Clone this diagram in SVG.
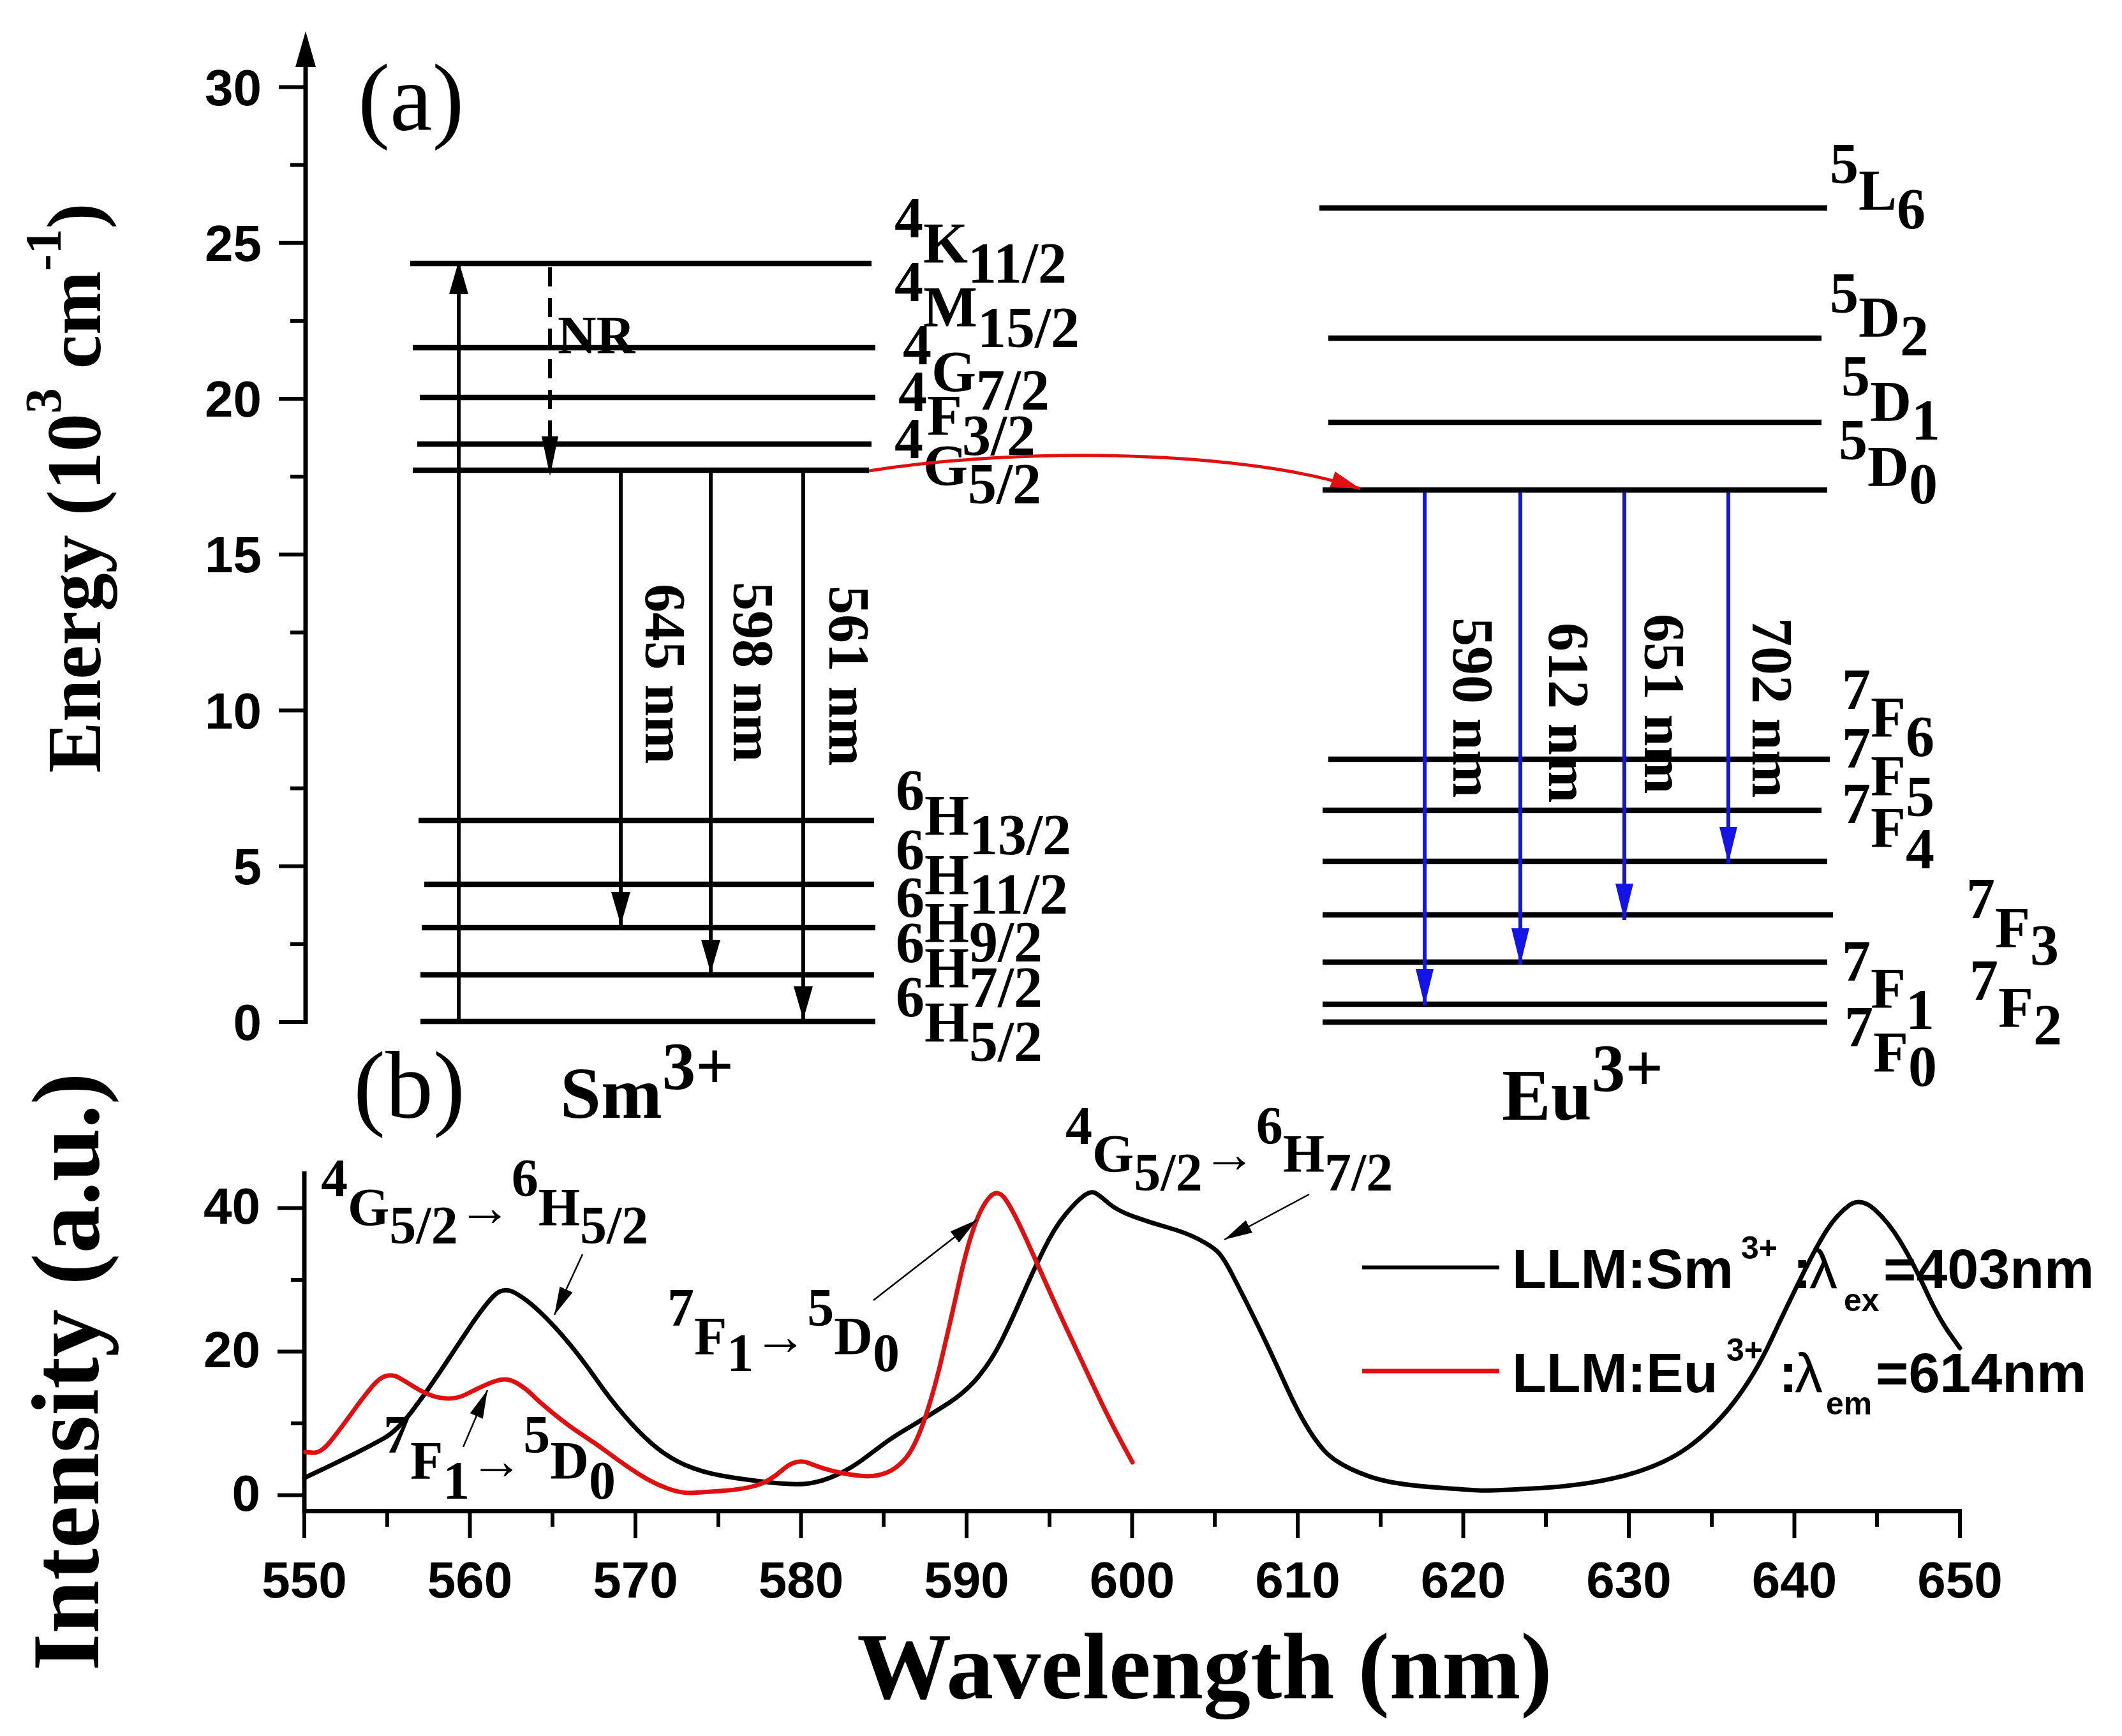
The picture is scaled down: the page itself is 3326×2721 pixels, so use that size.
<svg xmlns="http://www.w3.org/2000/svg" width="3326" height="2721" viewBox="0 0 3326 2721">
<style>
.bg{fill:#fff}
.lvl{stroke:#000;stroke-width:8.5;stroke-linecap:butt}
.ax{stroke:#000;stroke-width:7;fill:none}
.tk{stroke:#000;stroke-width:6}
.arr{stroke:#000;stroke-width:6;fill:none}
.blu{stroke:#1414e6;stroke-width:6;fill:none}
.thin{stroke:#000;stroke-width:2.5;fill:none}
.tl{font-family:"Liberation Sans",Arial,sans-serif;font-weight:bold;font-size:80px;fill:#000}
.lv{font-family:"Liberation Serif","Times New Roman",serif;font-weight:bold;font-size:90px;fill:#000}
.an{font-family:"Liberation Serif","Times New Roman",serif;font-weight:bold;font-size:84px;fill:#000}
.nm{font-family:"Liberation Serif","Times New Roman",serif;font-weight:bold;font-size:90px;fill:#000}
.ttl{font-family:"Liberation Serif","Times New Roman",serif;font-weight:bold;fill:#000}
.leg{font-family:"Liberation Sans",Arial,sans-serif;font-weight:bold;font-size:88px;fill:#000}
.ls{font-size:50px}
.crv{fill:none;stroke-width:7;stroke-linejoin:round;stroke-linecap:round}
</style>
<defs>
<marker id="hk" markerUnits="userSpaceOnUse" markerWidth="52" markerHeight="30" refX="52" refY="15" orient="auto" viewBox="0 0 52 30"><path d="M0,0 L52,15 L0,30 z" fill="#000"/></marker>
<marker id="hn" markerUnits="userSpaceOnUse" markerWidth="62" markerHeight="26" refX="62" refY="13" orient="auto" viewBox="0 0 62 26"><path d="M0,0 L62,13 L0,26 z" fill="#000"/></marker>
<marker id="hb" markerUnits="userSpaceOnUse" markerWidth="57" markerHeight="28" refX="57" refY="14" orient="auto" viewBox="0 0 57 28"><path d="M0,0 L57,14 L0,28 z" fill="#1414e6"/></marker>
<marker id="hr" markerUnits="userSpaceOnUse" markerWidth="46" markerHeight="26" refX="46" refY="13" orient="auto" viewBox="0 0 46 26"><path d="M0,0 L46,13 L0,26 z" fill="#e01010"/></marker>
<marker id="ht" markerUnits="userSpaceOnUse" markerWidth="44" markerHeight="22" refX="44" refY="11" orient="auto" viewBox="0 0 44 22"><path d="M0,0 L44,11 L0,22 z" fill="#000"/></marker>
</defs>
<rect class="bg" x="0" y="0" width="3326" height="2721"/>

<!-- Panel (a) axis -->
<g id="axis-a">
<line class="ax" x1="479" y1="100" x2="479" y2="1605"/>
<polygon points="479,49 463,105 495,105" fill="#000"/>
<line class="tk" x1="437" y1="136.5" x2="479" y2="136.5"/>
<line class="tk" x1="455" y1="258.6" x2="479" y2="258.6"/>
<line class="tk" x1="437" y1="380.8" x2="479" y2="380.8"/>
<line class="tk" x1="455" y1="502.9" x2="479" y2="502.9"/>
<line class="tk" x1="437" y1="625" x2="479" y2="625"/>
<line class="tk" x1="455" y1="747.1" x2="479" y2="747.1"/>
<line class="tk" x1="437" y1="869.3" x2="479" y2="869.3"/>
<line class="tk" x1="455" y1="991.4" x2="479" y2="991.4"/>
<line class="tk" x1="437" y1="1113.5" x2="479" y2="1113.5"/>
<line class="tk" x1="455" y1="1235.6" x2="479" y2="1235.6"/>
<line class="tk" x1="437" y1="1357.8" x2="479" y2="1357.8"/>
<line class="tk" x1="455" y1="1479.9" x2="479" y2="1479.9"/>
<line class="tk" x1="437" y1="1602" x2="479" y2="1602"/>
<text class="tl" text-anchor="end" x="410" y="165">30</text>
<text class="tl" text-anchor="end" x="410" y="409">25</text>
<text class="tl" text-anchor="end" x="410" y="653">20</text>
<text class="tl" text-anchor="end" x="410" y="897">15</text>
<text class="tl" text-anchor="end" x="410" y="1142">10</text>
<text class="tl" text-anchor="end" x="410" y="1386">5</text>
<text class="tl" text-anchor="end" x="410" y="1630">0</text>
<text class="ttl" font-size="120" text-anchor="middle" transform="translate(157,765) rotate(-90)">Energy (10<tspan font-size="80" dy="-62">3</tspan><tspan dy="62"> cm</tspan><tspan font-size="80" dy="-62">-1</tspan><tspan dy="62">)</tspan></text>
<text font-family="Liberation Serif,'Times New Roman',serif" font-size="150" x="561" y="204">(a)</text>
</g>

<!-- Sm3+ levels -->
<g id="sm-levels">
<line class="lvl" x1="643" y1="413" x2="1366" y2="413"/>
<line class="lvl" x1="647" y1="545" x2="1372" y2="545"/>
<line class="lvl" x1="658" y1="623" x2="1372" y2="623"/>
<line class="lvl" x1="654" y1="696" x2="1366" y2="696"/>
<line class="lvl" x1="647" y1="737" x2="1362" y2="737"/>
<line class="lvl" x1="656" y1="1286" x2="1370" y2="1286"/>
<line class="lvl" x1="665" y1="1386" x2="1370" y2="1386"/>
<line class="lvl" x1="661" y1="1454" x2="1372" y2="1454"/>
<line class="lvl" x1="659" y1="1528" x2="1370" y2="1528"/>
<line class="lvl" x1="659" y1="1601" x2="1372" y2="1601"/>
</g>
<g id="sm-labels">
<text class="lv" x="1402" y="412"><tspan dy="-40">4</tspan><tspan dy="40">K</tspan><tspan dy="31">11/2</tspan></text>
<text class="lv" x="1402" y="512"><tspan dy="-40">4</tspan><tspan dy="40">M</tspan><tspan dy="32">15/2</tspan></text>
<text class="lv" x="1415" y="613"><tspan dy="-42">4</tspan><tspan dy="42">G</tspan><tspan dy="29">7/2</tspan></text>
<text class="lv" x="1408" y="682"><tspan dy="-38">4</tspan><tspan dy="38">F</tspan><tspan dy="31">3/2</tspan></text>
<text class="lv" x="1402" y="760"><tspan dy="-42">4</tspan><tspan dy="42">G</tspan><tspan dy="29">5/2</tspan></text>
<text class="lv" x="1404" y="1309"><tspan dy="-40">6</tspan><tspan dy="40">H</tspan><tspan dy="30">13/2</tspan></text>
<text class="lv" x="1404" y="1402"><tspan dy="-40">6</tspan><tspan dy="40">H</tspan><tspan dy="30">11/2</tspan></text>
<text class="lv" x="1404" y="1477"><tspan dy="-40">6</tspan><tspan dy="40">H</tspan><tspan dy="30">9/2</tspan></text>
<text class="lv" x="1404" y="1548"><tspan dy="-40">6</tspan><tspan dy="40">H</tspan><tspan dy="30">7/2</tspan></text>
<text class="lv" x="1404" y="1633"><tspan dy="-40">6</tspan><tspan dy="40">H</tspan><tspan dy="30">5/2</tspan></text>
<text class="ttl" font-size="115" x="878" y="1752">Sm<tspan font-size="105" dy="-45">3+</tspan></text>
</g>

<!-- Eu3+ levels -->
<g id="eu-levels">
<line class="lvl" x1="2068" y1="326" x2="2864" y2="326"/>
<line class="lvl" x1="2082" y1="530" x2="2855" y2="530"/>
<line class="lvl" x1="2082" y1="662" x2="2855" y2="662"/>
<line class="lvl" x1="2073" y1="768" x2="2864" y2="768"/>
<line class="lvl" x1="2082" y1="1190" x2="2868" y2="1190"/>
<line class="lvl" x1="2073" y1="1270" x2="2855" y2="1270"/>
<line class="lvl" x1="2073" y1="1350" x2="2864" y2="1350"/>
<line class="lvl" x1="2073" y1="1434" x2="2873" y2="1434"/>
<line class="lvl" x1="2073" y1="1508" x2="2864" y2="1508"/>
<line class="lvl" x1="2073" y1="1574" x2="2864" y2="1574"/>
<line class="lvl" x1="2073" y1="1602" x2="2864" y2="1602"/>
</g>
<g id="eu-labels">
<text class="lv" x="2868" y="329"><tspan dy="-42">5</tspan><tspan dy="42">L</tspan><tspan dy="29">6</tspan></text>
<text class="lv" x="2868" y="528"><tspan dy="-38">5</tspan><tspan dy="38">D</tspan><tspan dy="29">2</tspan></text>
<text class="lv" x="2886" y="660"><tspan dy="-40">5</tspan><tspan dy="40">D</tspan><tspan dy="29">1</tspan></text>
<text class="lv" x="2882" y="762"><tspan dy="-42">5</tspan><tspan dy="42">D</tspan><tspan dy="27">0</tspan></text>
<text class="lv" x="2887" y="1155"><tspan dy="-44">7</tspan><tspan dy="44">F</tspan><tspan dy="30">6</tspan></text>
<text class="lv" x="2887" y="1247"><tspan dy="-44">7</tspan><tspan dy="44">F</tspan><tspan dy="32">5</tspan></text>
<text class="lv" x="2887" y="1328"><tspan dy="-38">7</tspan><tspan dy="38">F</tspan><tspan dy="33">4</tspan></text>
<text class="lv" x="3082" y="1485"><tspan dy="-46">7</tspan><tspan dy="46">F</tspan><tspan dy="27">3</tspan></text>
<text class="lv" x="2887" y="1580"><tspan dy="-43">7</tspan><tspan dy="43">F</tspan><tspan dy="33">1</tspan></text>
<text class="lv" x="3087" y="1610"><tspan dy="-43">7</tspan><tspan dy="43">F</tspan><tspan dy="27">2</tspan></text>
<text class="lv" x="2891" y="1680"><tspan dy="-40">7</tspan><tspan dy="40">F</tspan><tspan dy="22">0</tspan></text>
<text class="ttl" font-size="115" x="2354" y="1755">Eu<tspan font-size="105" dy="-45">3+</tspan></text>
</g>

<!-- connectors panel (a) -->
<g id="connectors-a">
<line class="arr" x1="719" y1="1601" x2="719" y2="409" marker-end="url(#hk)"/>
<line class="arr" x1="862" y1="419" x2="862" y2="746" stroke-dasharray="30 18" marker-end="url(#hn)"/>
<line class="arr" x1="973" y1="741" x2="973" y2="1450" marker-end="url(#hk)"/>
<line class="arr" x1="1114" y1="741" x2="1114" y2="1525" marker-end="url(#hk)"/>
<line class="arr" x1="1259" y1="741" x2="1259" y2="1598" marker-end="url(#hk)"/>
<path d="M1362,738 C1600,700 1950,705 2132,766" fill="none" stroke="#e01010" stroke-width="5" marker-end="url(#hr)"/>
<line class="blu" x1="2233" y1="772" x2="2233" y2="1576" marker-end="url(#hb)"/>
<line class="blu" x1="2383" y1="772" x2="2383" y2="1512" marker-end="url(#hb)"/>
<line class="blu" x1="2546" y1="772" x2="2546" y2="1442" marker-end="url(#hb)"/>
<line class="blu" x1="2709" y1="772" x2="2709" y2="1353" marker-end="url(#hb)"/>
<text class="an" font-size="88" x="874" y="554">NR</text>
<text class="nm" transform="translate(1012,915) rotate(90)">645 nm</text>
<text class="nm" transform="translate(1150,912) rotate(90)">598 nm</text>
<text class="nm" transform="translate(1300,918) rotate(90)">561 nm</text>
<text class="nm" transform="translate(2278,968) rotate(90)">590 nm</text>
<text class="nm" transform="translate(2428,976) rotate(90)">612 nm</text>
<text class="nm" transform="translate(2578,962) rotate(90)">651 nm</text>
<text class="nm" transform="translate(2747,968) rotate(90)">702 nm</text>
</g>

<!-- Panel (b) axes -->
<g id="axis-b">
<line class="ax" x1="477" y1="1836" x2="477" y2="2372"/>
<line class="ax" x1="474" y1="2368.5" x2="3075" y2="2368.5"/>
<line class="tk" x1="435" y1="1893.5" x2="477" y2="1893.5"/>
<line class="tk" x1="456" y1="2006" x2="477" y2="2006"/>
<line class="tk" x1="435" y1="2118.5" x2="477" y2="2118.5"/>
<line class="tk" x1="456" y1="2231" x2="477" y2="2231"/>
<line class="tk" x1="435" y1="2343.5" x2="477" y2="2343.5"/>
<text class="tl" font-size="76" text-anchor="end" x="408" y="1918">40</text>
<text class="tl" font-size="76" text-anchor="end" x="408" y="2143">20</text>
<text class="tl" font-size="76" text-anchor="end" x="408" y="2368">0</text>
<g id="xticks">
<line class="tk" x1="477" y1="2368" x2="477" y2="2411"/>
<line class="tk" x1="607" y1="2368" x2="607" y2="2393"/>
<line class="tk" x1="736.5" y1="2368" x2="736.5" y2="2411"/>
<line class="tk" x1="866" y1="2368" x2="866" y2="2393"/>
<line class="tk" x1="996" y1="2368" x2="996" y2="2411"/>
<line class="tk" x1="1126" y1="2368" x2="1126" y2="2393"/>
<line class="tk" x1="1255.5" y1="2368" x2="1255.5" y2="2411"/>
<line class="tk" x1="1385" y1="2368" x2="1385" y2="2393"/>
<line class="tk" x1="1515" y1="2368" x2="1515" y2="2411"/>
<line class="tk" x1="1645" y1="2368" x2="1645" y2="2393"/>
<line class="tk" x1="1774.5" y1="2368" x2="1774.5" y2="2411"/>
<line class="tk" x1="1904" y1="2368" x2="1904" y2="2393"/>
<line class="tk" x1="2034" y1="2368" x2="2034" y2="2411"/>
<line class="tk" x1="2164" y1="2368" x2="2164" y2="2393"/>
<line class="tk" x1="2293.5" y1="2368" x2="2293.5" y2="2411"/>
<line class="tk" x1="2423" y1="2368" x2="2423" y2="2393"/>
<line class="tk" x1="2553" y1="2368" x2="2553" y2="2411"/>
<line class="tk" x1="2683" y1="2368" x2="2683" y2="2393"/>
<line class="tk" x1="2812.5" y1="2368" x2="2812.5" y2="2411"/>
<line class="tk" x1="2942" y1="2368" x2="2942" y2="2393"/>
<line class="tk" x1="3072" y1="2368" x2="3072" y2="2411"/>
</g>
<g class="tl" font-size="84" text-anchor="middle">
<text x="477" y="2504">550</text>
<text x="736.5" y="2504">560</text>
<text x="996" y="2504">570</text>
<text x="1255.5" y="2504">580</text>
<text x="1515" y="2504">590</text>
<text x="1774.5" y="2504">600</text>
<text x="2034" y="2504">610</text>
<text x="2293.5" y="2504">620</text>
<text x="2553" y="2504">630</text>
<text x="2812.5" y="2504">640</text>
<text x="3072" y="2504">650</text>
</g>
<text class="ttl" font-size="150" text-anchor="middle" transform="translate(154,2150) rotate(-90)">Intensity (a.u.)</text>
<text class="ttl" font-size="148" text-anchor="middle" x="1888" y="2662">Wavelength (nm)</text>
<text font-family="Liberation Serif,'Times New Roman',serif" font-size="150" x="554" y="1752">(b)</text>
</g>

<!-- spectra -->
<g id="curves">
<path class="crv" stroke="#000" d="M477,2316.5 L505.5,2303 Q534,2289.5 557.5,2277.75 Q581,2266 601.5,2254.5 Q622,2243 645.5,2212.25 Q669,2181.5 691,2148.25 Q713,2115 735,2082 Q757,2049 772.5,2032.5 Q788,2016 806.5,2026 Q825,2036 847,2057 Q869,2078 891,2104.5 Q913,2131 935,2162.5 Q957,2194 980.5,2221 Q1004,2248 1026,2266.5 Q1048,2285 1074,2296.25 Q1100,2307.5 1132.5,2313.25 Q1165,2319 1206.5,2323.5 Q1248,2328 1268.5,2325 Q1289,2322 1311,2312 Q1333,2302 1352.5,2287.5 Q1372,2273 1386,2262.5 Q1400,2252 1428.5,2235.25 Q1457,2218.5 1486,2199.75 Q1515,2181 1535,2156 Q1555,2131 1569.5,2102 Q1584,2073 1601,2034 Q1618,1995 1635.5,1959.5 Q1653,1924 1670,1903.5 Q1687,1883 1698.5,1874.5 Q1710,1866 1717,1870 Q1724,1874 1737,1885.5 Q1750,1897 1776,1906.5 Q1802,1916 1830.5,1924 Q1859,1932 1879,1942.5 Q1899,1953 1908,1961.5 Q1917,1970 1931,1997 Q1945,2024 1959.5,2053 Q1974,2082 1988.5,2113 Q2003,2144 2017,2175 Q2031,2206 2045.5,2231 Q2060,2256 2074.5,2272.5 Q2089,2289 2117.5,2302.5 Q2146,2316 2175,2322 Q2204,2328 2252,2331.5 Q2300,2335 2317.5,2336 Q2335,2337 2413,2332.5 Q2491,2328 2549.5,2312 Q2608,2296 2646.5,2268 Q2685,2240 2717.5,2198 Q2750,2156 2776,2100.5 Q2802,2045 2826,1996.5 Q2850,1948 2865,1925.5 Q2880,1903 2898,1889.5 Q2916,1876 2938,1895.5 Q2960,1915 2979.5,1947.5 Q2999,1980 3018.5,2022.5 Q3038,2065 3055,2089 L3072,2113"/>
<path class="crv" stroke="#e01010" d="M479,2276 L491,2277 Q503,2278 518.5,2258.5 Q534,2239 552,2214 Q570,2189 583,2173.5 Q596,2158 606.5,2156.25 Q617,2154.5 626,2159.75 Q635,2165 649.5,2174 Q664,2183 677,2187.5 Q690,2192 704,2192 Q718,2192 732.5,2184.5 Q747,2177 764,2169.5 Q781,2162 791,2162 Q801,2162 813,2169.5 Q825,2177 835.5,2187.5 Q846,2198 869,2216.75 Q892,2235.5 914,2249.75 Q936,2264 958,2280.5 Q980,2297 1002.5,2311.25 Q1025,2325.5 1047,2333.25 Q1069,2341 1084.5,2340 Q1100,2339 1132.5,2336.75 Q1165,2334.5 1185.5,2328.25 Q1206,2322 1227,2303.5 Q1248,2285 1268.5,2293.5 Q1289,2302 1311,2307 Q1333,2312 1352.5,2313.5 Q1372,2315 1389,2308.5 Q1406,2302 1420,2285 Q1434,2268 1448.5,2226.5 Q1463,2185 1477.5,2123 Q1492,2061 1503.5,2009 Q1515,1957 1526.5,1924 Q1538,1891 1551,1876.5 Q1564,1862 1576.5,1880.5 Q1589,1899 1609.5,1944.5 Q1630,1990 1644,2021.5 Q1658,2053 1672.5,2084 Q1687,2115 1701.5,2146 Q1716,2177 1730,2206 Q1744,2235 1759.5,2263.5 L1775,2292"/>
</g>

<!-- annotations (b) -->
<g id="annotations-b">
<text class="an" x="503" y="1921"><tspan dy="-46">4</tspan><tspan dy="46">G</tspan><tspan dy="28">5/2</tspan><tspan dy="-28">→</tspan><tspan dy="-46">6</tspan><tspan dy="46">H</tspan><tspan dy="28">5/2</tspan></text>
<line class="thin" x1="913" y1="1966" x2="869" y2="2061" marker-end="url(#ht)"/>
<text class="an" x="601" y="2318"><tspan dy="-41">7</tspan><tspan dy="41">F</tspan><tspan dy="31">1</tspan><tspan dy="-31">→</tspan><tspan dy="-41">5</tspan><tspan dy="41">D</tspan><tspan dy="31">0</tspan></text>
<line class="thin" x1="726" y1="2268" x2="764" y2="2179" marker-end="url(#ht)"/>
<text class="an" x="1046" y="2123"><tspan dy="-45">7</tspan><tspan dy="45">F</tspan><tspan dy="26">1</tspan><tspan dy="-26">→</tspan><tspan dy="-45">5</tspan><tspan dy="45">D</tspan><tspan dy="26">0</tspan></text>
<line class="thin" x1="1369" y1="2038" x2="1531" y2="1912" marker-end="url(#ht)"/>
<text class="an" x="1670" y="1837"><tspan dy="-44">4</tspan><tspan dy="44">G</tspan><tspan dy="29">5/2</tspan><tspan dy="-29">→</tspan><tspan dy="-44">6</tspan><tspan dy="44">H</tspan><tspan dy="29">7/2</tspan></text>
<line class="thin" x1="2052" y1="1872" x2="1919" y2="1943" marker-end="url(#ht)"/>
</g>

<!-- legend -->
<g id="legend">
<line x1="2135" y1="1986.5" x2="2350" y2="1986.5" stroke="#000" stroke-width="6"/>
<line x1="2135" y1="2149" x2="2350" y2="2149" stroke="#e01010" stroke-width="7"/>
<text class="leg"><tspan x="2370" y="2019">LLM:Sm</tspan><tspan class="ls" x="2729" y="1973">3+</tspan><tspan x="2810" y="2019">:</tspan><tspan x="2836" y="2019" font-weight="normal">λ</tspan><tspan class="ls" x="2890" y="2055">ex</tspan><tspan x="2952" y="2019">=403nm</tspan></text>
<text class="leg"><tspan x="2370" y="2182">LLM:Eu</tspan><tspan class="ls" x="2706" y="2133">3+</tspan><tspan x="2788" y="2182">:</tspan><tspan x="2813" y="2182" font-weight="normal">λ</tspan><tspan class="ls" x="2862" y="2217">em</tspan><tspan x="2940" y="2182">=614nm</tspan></text>
</g>
</svg>
